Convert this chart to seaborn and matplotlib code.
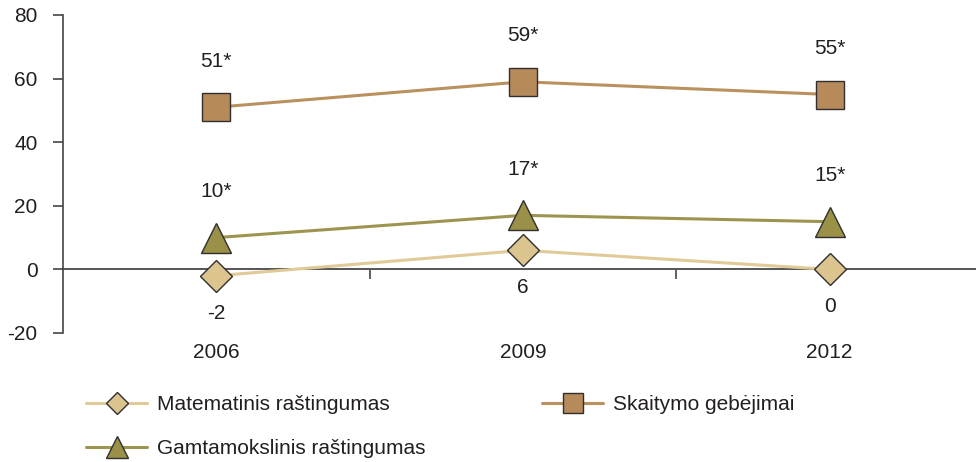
import matplotlib
matplotlib.use("Agg")
import matplotlib.pyplot as plt
from matplotlib import font_manager
import seaborn as sns
import pandas as pd

years = ["2006", "2009", "2012"]
series_names = ["Matematinis raštingumas", "Gamtamokslinis raštingumas", "Skaitymo gebėjimai"]
mat_vals = [-2, 6, 0]
gamta_vals = [10, 17, 15]
skait_vals = [51, 59, 55]
mat_labels = ["-2", "6", "0"]
gamta_labels = ["10*", "17*", "15*"]
skait_labels = ["51*", "59*", "55*"]
y_ticks = [-20, 0, 20, 40, 60, 80]

sns.set_theme(style="white")
names = {f.name for f in font_manager.fontManager.ttflist}
if "Liberation Sans Narrow" in names:
    fam = ["Liberation Sans Narrow", "DejaVu Sans"]
    fs = 16.5
else:
    fam = ["Liberation Sans", "DejaVu Sans"]
    fs = 15
plt.rcParams["font.family"] = fam
plt.rcParams["axes.unicode_minus"] = False

fig = plt.figure(figsize=(9.76, 4.62), dpi=100)
ax = fig.add_axes([63/976, 129/462, 920/976, 318/462])

styles = [
    dict(vals=mat_vals, labels=mat_labels, line="#E0CA98", face="#DCC48E", marker="D", ms=16.3, above=False),
    dict(vals=gamta_vals, labels=gamta_labels, line="#9C944F", face="#9A9048", marker="^", ms=22, above=True),
    dict(vals=skait_vals, labels=skait_labels, line="#B8915F", face="#B68A5A", marker="s", ms=20, above=True),
]

xpos = list(range(len(years)))
handles = []
for name, st in zip(series_names, styles):
    df = pd.DataFrame({"x": xpos, "y": st["vals"]})
    sns.lineplot(data=df, x="x", y="y", ax=ax, color=st["line"], linewidth=2.2,
                 marker=st["marker"], markersize=st["ms"], markerfacecolor=st["face"],
                 markeredgecolor="#2f2f2f", markeredgewidth=1.0, label=name, zorder=3)
    handles.append(ax.lines[-1])
    for x, v, lab in zip(xpos, st["vals"], st["labels"]):
        off = 33 if st["above"] else -27
        ax.annotate(lab, (x, v), xytext=(0, off), textcoords="offset points",
                    ha="center", va="center", fontsize=fs, color="#231f20")

ax.set_xlim(-0.5, 2.5)
ax.set_ylim(-20, 80)
ax.set_yticks(y_ticks)
ax.set_yticklabels([str(t) for t in y_ticks])
ax.set_xticks(xpos)
ax.set_xticklabels(years)
ax.set_xlabel("")
ax.set_ylabel("")

for s in ["top", "right", "bottom"]:
    ax.spines[s].set_visible(False)
ax.spines["left"].set_color("#444444")
ax.spines["left"].set_linewidth(1.2)
ax.tick_params(axis="y", direction="out", length=7.2, width=1.2, color="#444444",
               pad=11, labelsize=fs, labelcolor="#231f20", left=True)
ax.tick_params(axis="x", length=0, pad=7, labelsize=fs, labelcolor="#231f20")

# zero line with category boundary ticks
sec = ax.secondary_xaxis(0, transform=ax.transData)
sec.set_xticks([0.5, 1.5])
sec.set_xticklabels(["", ""])
sec.tick_params(axis="x", direction="out", length=7.2, width=1.2, color="#444444")
sec.spines["bottom"].set_color("#555555")
sec.spines["bottom"].set_linewidth(1.4)

ax.get_legend().remove()
fig.legend(handles=handles, labels=series_names, ncol=2, frameon=False,
           loc="upper left", bbox_to_anchor=(76/976, 77/462), borderpad=0,
           handlelength=2.9, handletextpad=0.5, columnspacing=5.6,
           labelspacing=1.2, markerscale=0.7, fontsize=fs, labelcolor="#231f20")

fig.savefig("out.png", dpi=100)
